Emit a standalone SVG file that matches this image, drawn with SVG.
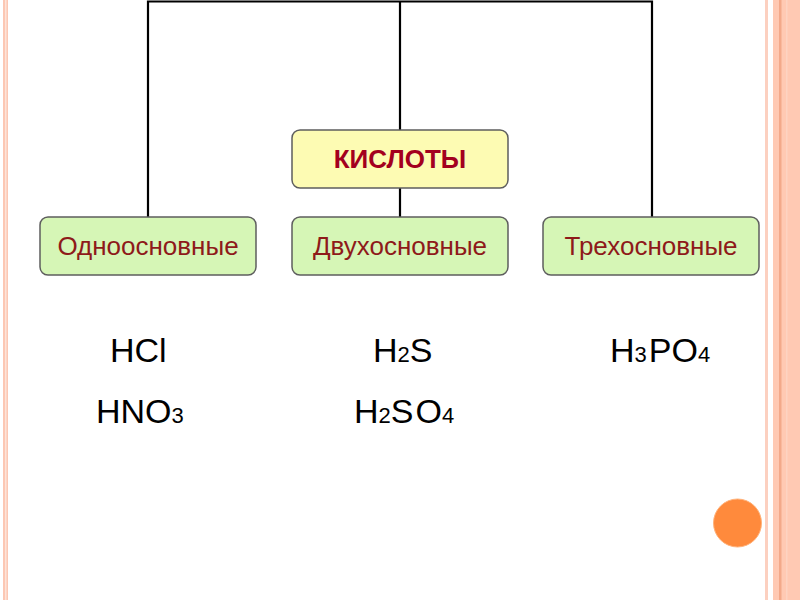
<svg xmlns="http://www.w3.org/2000/svg" width="800" height="600" viewBox="0 0 800 600">
<style>
.box{stroke:#5e5e5e;stroke-width:1.5}
.y{fill:#fdfbb3}
.g{fill:#d6f6b6}
.lbl{font-family:"Liberation Sans",Arial,sans-serif;font-size:26px;fill:#8e1a1a;text-anchor:middle}
.main{font-family:"Liberation Sans",Arial,sans-serif;font-size:26px;font-weight:bold;fill:#a3001e;text-anchor:middle}
.f{font-family:"Liberation Sans",Arial,sans-serif;font-size:34px;fill:#000}
.s{font-size:22px}
.ln{stroke:#000;stroke-width:2.2;fill:none}
</style>
<rect width="800" height="600" fill="#fff"/>
<g id="border">
<rect x="3" y="0" width="5" height="600" fill="#fcc7b3"/>
<rect x="5" y="0" width="1.5" height="600" fill="#fde3d8"/>
<rect x="765" y="0" width="3" height="600" fill="#fcd0c0"/>
<rect x="773" y="0" width="27" height="600" fill="#ffc9b3"/>
<rect x="779" y="0" width="2.5" height="600" fill="#f3a98a"/>
<rect x="786" y="0" width="1.5" height="600" fill="#fdd3c2"/>
</g>
<g id="connectors">
<polyline class="ln" points="148,217 148,1.5 652,1.5 652,217"/>
<line class="ln" x1="400" y1="1.5" x2="400" y2="130"/>
<line class="ln" x1="400" y1="188" x2="400" y2="217"/>
</g>
<g id="kisloty">
<rect class="box y" x="292" y="130" width="216" height="58" rx="8"/>
<text class="main" x="400" y="168">КИСЛОТЫ</text>
</g>
<g id="odno">
<rect class="box g" x="40" y="217" width="216" height="58" rx="8"/>
<text class="lbl" x="148" y="255">Одноосновные</text>
</g>
<g id="dvuh">
<rect class="box g" x="292" y="217" width="216" height="58" rx="8"/>
<text class="lbl" x="400" y="255">Двухосновные</text>
</g>
<g id="treh">
<rect class="box g" x="543" y="217" width="216" height="58" rx="8"/>
<text class="lbl" x="651" y="255">Трехосновные</text>
</g>
<g id="formulas">
<text class="f" x="110" y="362">HCl</text>
<text class="f" x="96" y="423">HNO<tspan class="s">3</tspan></text>
<text class="f" x="373" y="362">H<tspan class="s">2</tspan>S</text>
<text class="f" x="354" y="423">H<tspan class="s">2</tspan>S<tspan dx="2">O</tspan><tspan class="s">4</tspan></text>
<text class="f" x="610" y="362">H<tspan class="s">3</tspan><tspan dx="2">PO</tspan><tspan class="s">4</tspan></text>
</g>
<circle id="dot" cx="737.5" cy="523" r="24" fill="#ff8a3c" stroke="#ffb27a" stroke-width="1"/>
</svg>
